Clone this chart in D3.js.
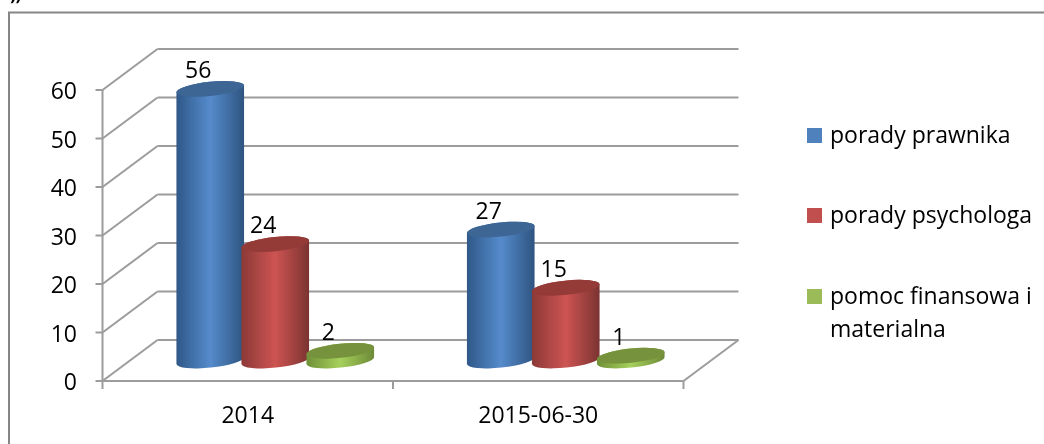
<!DOCTYPE html>
<html><head><meta charset="utf-8">
<script src="https://cdn.jsdelivr.net/npm/d3@7/dist/d3.min.js"></script>
<style>html,body{margin:0;padding:0;background:#fff;overflow:hidden}svg{display:block}text{font-family:"Open Sans",Lato,sans-serif;fill:#000}</style>
</head><body><svg id="c" width="1044" height="444"></svg>
<script>
const categories = ["2014", "2015-06-30"];
const seriesNames = ["porady prawnika", "porady psychologa", "pomoc finansowa i materialna"];
const prawnika = [56, 27];
const psychologa = [24, 15];
const pomoc = [2, 1];
const yTicks = [0, 10, 20, 30, 40, 50, 60];
const seriesValues = [prawnika, psychologa, pomoc];
const palette = [
  {side:"#2f5888",mid:"#558bcc",edge:"#2e5480",top:"#3c6695",sw:"#4f81bd"},
  {side:"#8c3937",mid:"#cd5452",edge:"#7b3331",top:"#943a39",sw:"#c0504d"},
  {side:"#6f9037",mid:"#a6d05c",edge:"#6d8a37",top:"#76923c",sw:"#9bbb59"}];

const svg = d3.select("#c");
const defs = svg.append("defs");
defs.append("filter").attr("id","soft").attr("x","-2%").attr("y","-2%").attr("width","104%").attr("height","104%")
  .append("feGaussianBlur").attr("stdDeviation",0.45);
const root = svg.append("g").attr("filter","url(#soft)");

const x = d3.scaleBand().domain(categories).range([102.5, 683.5]);
const s = d3.scaleBand().domain(d3.range(3)).range([-97.5, 97.5]);
const y = d3.scaleLinear().domain([0, 60]).range([381, 90]);
const DX = 55, DY = -41;
const X0 = x.range()[0], X1 = x.range()[1];
const grid = "#9c9c9c";

root.append("rect").attr("x",0).attr("y",0).attr("width",1044).attr("height",444).attr("fill","#fff");
root.append("path").attr("d","M9,470V12.4H1070").attr("fill","none").attr("stroke","#868686").attr("stroke-width",2);

palette.forEach((p,i)=>{
  const g = defs.append("linearGradient").attr("id","g"+i);
  [[0,p.side],[.5,p.mid],[1,p.edge]].forEach(([o,c])=>g.append("stop").attr("offset",o).attr("stop-color",c));
});

const FS = 23;
const walls = root.append("g").attr("fill","none").attr("stroke",grid).attr("stroke-width",2);
yTicks.forEach(t=>{
  walls.append("line").attr("x1",X0).attr("y1",y(t)).attr("x2",X0+DX).attr("y2",y(t)+DY);
  walls.append("line").attr("x1",X0+DX).attr("y1",y(t)+DY).attr("x2",X1+DX).attr("y2",y(t)+DY);
  walls.append("line").attr("x1",X0-7).attr("y1",y(t)).attr("x2",X0).attr("y2",y(t));
  root.append("text").attr("x",77).attr("y",y(t)+9).attr("text-anchor","end").attr("font-size",FS).text(t);
});
walls.append("line").attr("x1",X0).attr("y1",y(60)).attr("x2",X0).attr("y2",y(0));
walls.append("line").attr("x1",X0).attr("y1",y(0)).attr("x2",X1).attr("y2",y(0));
walls.append("line").attr("x1",X1).attr("y1",y(0)).attr("x2",X1+DX).attr("y2",y(0)+DY);
[X0,x.step()+X0,X1].forEach(v=>walls.append("line").attr("x1",v).attr("y1",y(0)).attr("x2",v).attr("y2",y(0)+8));

const RX=34, RY=7.1, ROT=-6;
const ex=RX*Math.cos(ROT*Math.PI/180), ey=-RX*Math.sin(ROT*Math.PI/180);
categories.forEach((cat,ci)=>{
  const cc = x(cat)+x.bandwidth()/2+DX/2;
  seriesValues.forEach((vals,si)=>{
    const cx = cc + s(si)+s.bandwidth()/2;
    const v = vals[ci];
    const top = y(v)+DY/2, base = y(0)+DY/2;
    const p = palette[si];
    root.append("path").attr("fill",`url(#g${si})`).attr("d",
      `M${cx-ex},${top+ey}L${cx-ex},${base+ey}A${RX},${RY} ${ROT} 0 0 ${cx+ex},${base-ey}L${cx+ex},${top-ey}A${RX},${RY} ${ROT} 0 0 ${cx-ex},${top+ey}Z`);
    root.append("ellipse").attr("cx",cx).attr("cy",top).attr("rx",RX).attr("ry",RY)
      .attr("transform",`rotate(${ROT} ${cx} ${top})`).attr("fill",p.top);
    root.append("text").attr("x",cx-12).attr("y",top-11).attr("text-anchor","middle").attr("font-size",FS).text(v);
  });
  root.append("text").attr("x",x(cat)+x.bandwidth()/2).attr("y",423).attr("text-anchor","middle").attr("font-size",FS).text(cat);
});

const legendRows = [[135.5,["porady prawnika"]],[215.5,["porady psychologa"]],[296.5,["pomoc finansowa i","materialna"]]];
legendRows.forEach(([cy,lines],i)=>{
  root.append("rect").attr("x",807).attr("y",cy-7.5).attr("width",15).attr("height",15).attr("fill",palette[i].sw);
  lines.forEach((l,j)=>root.append("text").attr("x",830).attr("y",cy+7.5+j*33).attr("font-size",FS).text(l));
});
root.append("text").attr("x",9).attr("y",17).attr("font-size",30).attr("font-style","italic").text("”");
</script></body></html>
